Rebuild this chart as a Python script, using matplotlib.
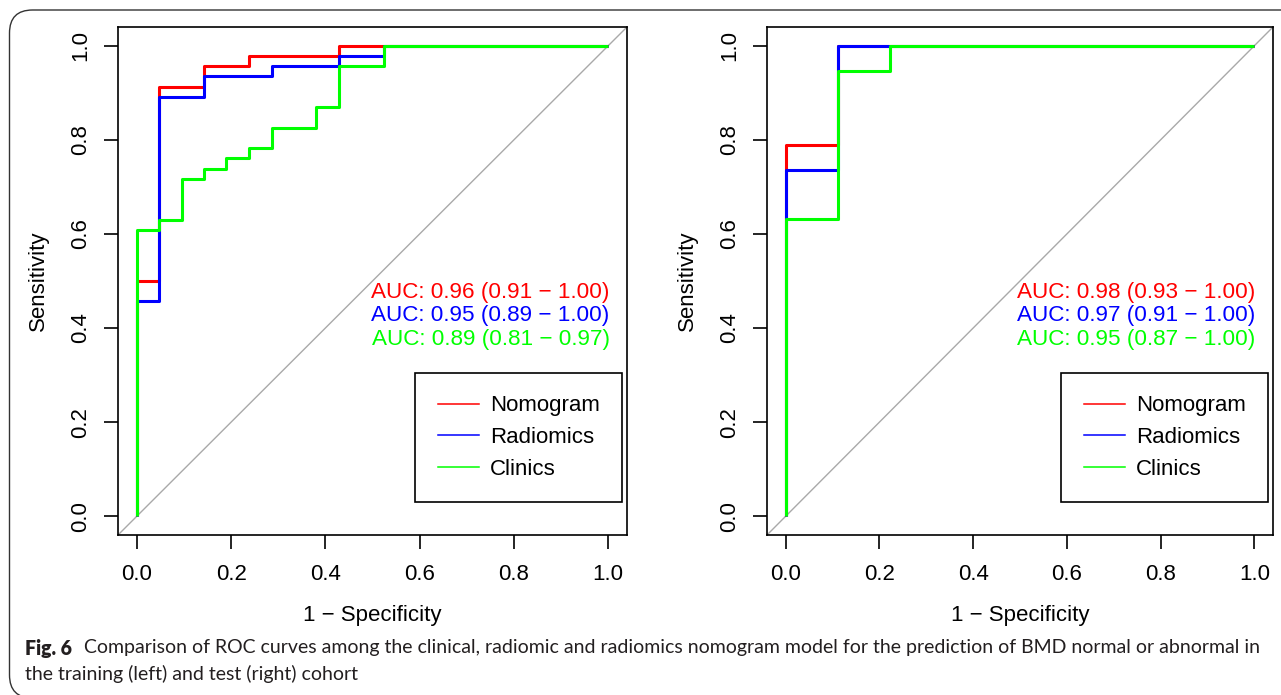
import matplotlib
matplotlib.use("Agg")
import matplotlib.pyplot as plt
from matplotlib.patches import FancyBboxPatch

plt.rcParams['font.family'] = ['Liberation Sans', 'DejaVu Sans']

# ROC corner points (steps-post)
train_fpr = {
    'Nomogram':  [0, 0, 0.048, 0.143, 0.238, 0.429, 1.0],
    'Radiomics': [0, 0, 0.048, 0.143, 0.286, 0.429, 0.524, 1.0],
    'Clinics':   [0, 0, 0.048, 0.095, 0.143, 0.190, 0.238, 0.286, 0.381, 0.429, 0.524, 1.0],
}
train_tpr = {
    'Nomogram':  [0, 0.500, 0.913, 0.957, 0.978, 1.0, 1.0],
    'Radiomics': [0, 0.457, 0.891, 0.935, 0.957, 0.978, 1.0, 1.0],
    'Clinics':   [0, 0.609, 0.630, 0.717, 0.739, 0.761, 0.783, 0.826, 0.870, 0.957, 1.0, 1.0],
}
test_fpr = {
    'Nomogram':  [0, 0, 0.111, 1.0],
    'Radiomics': [0, 0, 0.111, 1.0],
    'Clinics':   [0, 0, 0.111, 0.222, 1.0],
}
test_tpr = {
    'Nomogram':  [0, 0.789, 1.0, 1.0],
    'Radiomics': [0, 0.737, 1.0, 1.0],
    'Clinics':   [0, 0.632, 0.947, 1.0, 1.0],
}
train_auc = ['AUC: 0.96 (0.91 \u2212 1.00)', 'AUC: 0.95 (0.89 \u2212 1.00)', 'AUC: 0.89 (0.81 \u2212 0.97)']
test_auc = ['AUC: 0.98 (0.93 \u2212 1.00)', 'AUC: 0.97 (0.91 \u2212 1.00)', 'AUC: 0.95 (0.87 \u2212 1.00)']

models = ['Nomogram', 'Radiomics', 'Clinics']
colors = {'Nomogram': '#ff0000', 'Radiomics': '#0000ff', 'Clinics': '#00ff00'}
ticks = [0.0, 0.2, 0.4, 0.6, 0.8, 1.0]
auc_y = [0.475, 0.426, 0.375]

W, H = 1281, 695
fig = plt.figure(figsize=(W / 100, H / 100), dpi=100)


def px_axes(left, top, right, bottom):
    return fig.add_axes([left / W, 1 - bottom / H, (right - left) / W, (bottom - top) / H])


def draw_roc(ax, fpr, tpr, auc_labels, ylab_x):
    ax.plot([-1, 2], [-1, 2], color='#a9a9a9', lw=1.0, zorder=1)
    for m in models:
        ax.plot(fpr[m], tpr[m], drawstyle='steps-post', color=colors[m], lw=2.2,
                solid_capstyle='butt', zorder=2)
    for lab, y, m in zip(auc_labels, auc_y, models):
        ax.text(1.003, y, lab, color=colors[m], fontsize=16.2, ha='right', va='center')
    ax.set_xlim(-0.04, 1.04)
    ax.set_ylim(-0.04, 1.04)
    ax.set_xticks(ticks)
    ax.set_yticks(ticks)
    ax.set_xticklabels([f'{t:.1f}' for t in ticks])
    ax.set_yticklabels([f'{t:.1f}' for t in ticks], rotation=90, va='center')
    ax.tick_params(direction='out', length=10, width=1.2, labelsize=16, pad=9)
    ax.tick_params(axis='x', pad=11)
    for s in ax.spines.values():
        s.set_linewidth(1.2)
    handles = [plt.Line2D([], [], color=colors[m], lw=1.1) for m in models]
    leg = ax.legend(handles, models, loc='lower right', bbox_to_anchor=(0.990, 0.065),
                    borderaxespad=0, fontsize=16, frameon=True, fancybox=False,
                    edgecolor='black', framealpha=1, handlelength=1.85,
                    handletextpad=0.5, labelspacing=0.48, borderpad=1.0)
    leg.get_frame().set_linewidth(1.2)
    ax.text(0.5, (535 - 616) / 508, '1 \u2212 Specificity', transform=ax.transAxes,
            fontsize=16, ha='center', va='center')
    ax.text(ylab_x, 0.5, 'Sensitivity', transform=ax.transAxes, fontsize=16,
            ha='center', va='center', rotation=90)


ax1 = px_axes(118, 27, 627, 535)
ax2 = px_axes(767, 27, 1273, 535)
draw_roc(ax1, train_fpr, train_tpr, train_auc, (38 - 118) / 509)
draw_roc(ax2, test_fpr, test_tpr, test_auc, (687 - 767) / 506)

# rounded frame around the figure (top and left edges visible)
frame = FancyBboxPatch((9.5 / W, 1 - 698 / H), 1.3, (698 - 10) / H,
                       boxstyle='round,pad=0,rounding_size=0.018',
                       transform=fig.transFigure, fill=False, edgecolor='#333333',
                       lw=1.0, mutation_aspect=W / H)
fig.patches.append(frame)

# caption, sized so that the first line spans the same width as in the original
cap_font = ['Lato', 'DejaVu Sans']
cap_color = '#231f20'
line1_rest = ('Comparison of ROC curves among the clinical, radiomic and radiomics nomogram model '
              'for the prediction of BMD normal or abnormal in')
line2 = 'the training (left) and test (right) cohort'
renderer = fig.canvas.get_renderer()


def line1_width(fs):
    tb = fig.text(0, 0, 'Fig. 6', fontsize=fs, fontweight='heavy', family=cap_font)
    tr = fig.text(0, 0, line1_rest, fontsize=fs, family=cap_font)
    w = (tb.get_window_extent(renderer).width + 0.6 * fs * 100 / 72
         + tr.get_window_extent(renderer).width)
    tb.remove()
    tr.remove()
    return w


fs = 12.0
for _ in range(4):
    fs *= 1238 / line1_width(fs)

t_bold = fig.text(25 / W, 1 - 648 / H, 'Fig. 6', fontsize=fs, fontweight='heavy',
                  family=cap_font, ha='left', va='center', color=cap_color)
bw = t_bold.get_window_extent(renderer).width
fig.text((25 + bw + 0.6 * fs * 100 / 72) / W, 1 - 648 / H, line1_rest, fontsize=fs,
         family=cap_font, ha='left', va='center', color=cap_color)
fig.text(25 / W, 1 - 674 / H, line2, fontsize=fs, family=cap_font, ha='left',
         va='center', color=cap_color)

fig.savefig('out.png', dpi=100)
